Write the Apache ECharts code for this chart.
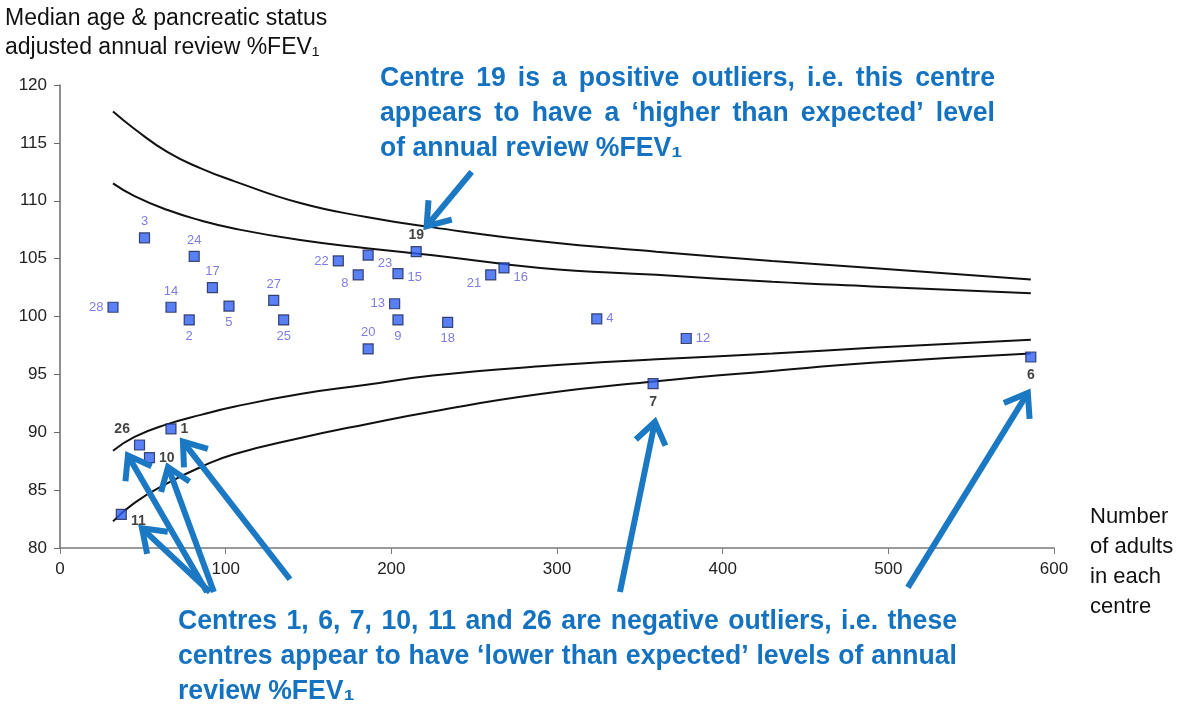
<!DOCTYPE html>
<html>
<head>
<meta charset="utf-8">
<script src="https://cdn.jsdelivr.net/npm/echarts@6/dist/echarts.min.js"></script>
<style>
  html, body { margin: 0; padding: 0; background: #fff; }
  #chart { width: 1180px; height: 706px; }
</style>
</head>
<body>
<div id="chart"></div>
<script>
// centre numbers, number of adults, adjusted %FEV1
const centres = [1, 2, 3, 4, 5, 6, 7, 8, 9, 10, 11, 12, 13, 14, 15, 16, 17, 18, 19, 20, 21, 22, 23, 24, 25, 26, 27, 28];
const adults = [67, 78, 51, 324, 102, 586, 358, 180, 204, 54, 37, 378, 202, 67, 204, 268, 92, 234, 215, 186, 260, 168, 186, 81, 135, 48, 129, 32];
const fev = [90.3, 99.7, 106.8, 99.8, 100.9, 96.5, 94.2, 103.6, 99.7, 87.8, 82.9, 98.1, 101.1, 100.8, 103.7, 104.2, 102.5, 99.5, 105.6, 97.2, 103.6, 104.8, 105.3, 105.2, 99.7, 88.9, 101.4, 100.8];
const outliers = [1, 6, 7, 10, 11, 19, 26];

// control limits
const limitN = [32, 45, 65, 85, 105, 145, 185, 225, 290, 360, 430, 490, 586];
const upperOuter = [117.7, 116.2, 114.2, 112.8, 111.7, 109.8, 108.6, 107.7, 106.5, 105.6, 104.8, 104.2, 103.2];
const upperInner = [111.5, 110.4, 109.2, 108.3, 107.6, 106.6, 105.9, 105.3, 104.2, 103.6, 103.0, 102.6, 102.0];
const lowerInner = [88.4, 89.6, 90.7, 91.5, 92.2, 93.3, 94.1, 94.9, 95.7, 96.3, 96.8, 97.3, 98.0];
const lowerOuter = [82.3, 83.9, 85.6, 87.0, 88.1, 89.5, 90.7, 91.8, 93.3, 94.4, 95.3, 96.0, 96.8];

const xTicks = [0, 100, 200, 300, 400, 500, 600];
const yTicks = [80, 85, 90, 95, 100, 105, 110, 115, 120];

// annotation arrows: [tailN, tailFev, tipN, tipFev]
const arrows = [
  [248.5, 112.5, 221.3, 107.8],
  [88.7, 76.2, 41.0, 88.0],
  [90.5, 76.2, 49.5, 81.7],
  [92.9, 76.2, 65.2, 87.0],
  [138.8, 77.3, 74.2, 89.2],
  [338.0, 76.2, 359.1, 90.9],
  [511.8, 76.6, 584.2, 93.4]
];

const topNote = [
  'Centre 19 is a positive outliers, i.e. this centre',
  'appears to have a \u2018higher than expected\u2019 level',
  'of annual review %FEV\u2081'
];
const bottomNote = [
  'Centres 1, 6, 7, 10, 11 and 26 are negative outliers, i.e. these',
  'centres appear to have \u2018lower than expected\u2019 levels of annual',
  'review %FEV\u2081'
];

// where each point label sits
const labelPlace = {
  28: ['left'], 3: ['top'], 24: ['top'], 17: ['top'], 14: ['top'], 2: ['bottom'], 5: ['bottom'],
  27: ['top'], 25: ['bottom'], 22: ['left'], 23: ['right', 0, 8], 8: ['left', 0, 9], 15: ['right', 0, 4],
  21: ['left', 0, 9], 16: ['right', 0, 10], 13: ['left'], 9: ['bottom'], 18: ['bottom'], 20: ['top'],
  4: ['right'], 12: ['right'], 7: ['bottom', 0, 2], 6: ['bottom', 0, 2], 19: ['top'], 26: ['left', 0, -16],
  1: ['right'], 10: ['right'], 11: ['right', 0, 7]
};

const FONT = '"Liberation Sans", Arial, Helvetica, sans-serif';
const BLUE = '#1472c0';
const ARROW = '#1b78c2';

const chart = echarts.init(document.getElementById('chart'));

const points = centres.map((c, i) => {
  const p = labelPlace[c] || ['right'];
  const isOut = outliers.indexOf(c) >= 0;
  return {
    name: String(c),
    value: [adults[i], fev[i]],
    label: {
      position: p[0],
      offset: [p[1] || 0, p[2] || 0],
      color: isOut ? '#111' : '#5b5bd9',
      fontWeight: isOut ? 'bold' : 'normal',
      fontSize: isOut ? 14 : 13
    }
  };
});

const limitSeries = [upperOuter, upperInner, lowerInner, lowerOuter].map(vals => ({
  type: 'line',
  data: limitN.map((n, i) => [n, vals[i]]),
  smooth: true,
  symbol: 'none',
  lineStyle: { color: '#111', width: 2 },
  silent: true,
  z: 2
}));

chart.setOption({
  animation: false,
  backgroundColor: '#fff',
  textStyle: { fontFamily: FONT },
  grid: { left: 60, right: 126, top: 85, bottom: 158 },
  xAxis: {
    type: 'value',
    min: xTicks[0],
    max: xTicks[xTicks.length - 1],
    interval: 100,
    axisLine: { lineStyle: { color: '#7a7a7a', width: 1.5 } },
    axisTick: { length: 6, lineStyle: { color: '#7a7a7a' } },
    axisLabel: { fontSize: 17, color: '#222', margin: 13 },
    splitLine: { show: false }
  },
  yAxis: {
    type: 'value',
    min: yTicks[0],
    max: yTicks[yTicks.length - 1],
    interval: 5,
    axisLine: { show: true, lineStyle: { color: '#6a6a6a', width: 1.5 } },
    axisTick: { show: true, length: 6, lineStyle: { color: '#6a6a6a' } },
    axisLabel: { fontSize: 17, color: '#222', margin: 13 },
    splitLine: { show: false }
  },
  series: limitSeries.concat([{
    type: 'scatter',
    data: points,
    symbol: 'rect',
    symbolSize: 10,
    itemStyle: { color: '#2f62f2', borderColor: '#1c2350', borderWidth: 1.2 },
    label: { show: true, formatter: '{b}', distance: 4 },
    z: 5
  }])
});

// --- annotations (condensed bold, justified like the original slide) ---
const ctx = document.createElement('canvas').getContext('2d');
const noteFont = 'bold 28px ' + FONT;
const squeeze = 0.95;
ctx.font = noteFont;

function noteLines(lines, left, right, y0, step) {
  const els = [];
  lines.forEach((line, li) => {
    const words = line.split(' ');
    const widths = words.map(w => ctx.measureText(w).width * squeeze);
    const total = widths.reduce((a, b) => a + b, 0);
    const last = li === lines.length - 1;
    const gap = last ? ctx.measureText(' ').width * squeeze : (right - left - total) / (words.length - 1);
    let x = left;
    words.forEach((w, i) => {
      els.push({
        type: 'text', x: x, y: y0 + li * step, z: 20, scaleX: squeeze,
        style: { text: w, font: noteFont, fill: BLUE, textVerticalAlign: 'middle', verticalAlign: 'middle' }
      });
      x += widths[i] + gap;
    });
  });
  return els;
}

function arrowEls(a) {
  const p0 = chart.convertToPixel({ gridIndex: 0 }, [a[0], a[1]]);
  const p1 = chart.convertToPixel({ gridIndex: 0 }, [a[2], a[3]]);
  const ang = Math.atan2(p1[1] - p0[1], p1[0] - p0[0]);
  const L = 26, h = 0.62;
  const l = [p1[0] - L * Math.cos(ang - h), p1[1] - L * Math.sin(ang - h)];
  const r = [p1[0] - L * Math.cos(ang + h), p1[1] - L * Math.sin(ang + h)];
  const end = [p1[0] - 3 * Math.cos(ang), p1[1] - 3 * Math.sin(ang)];
  const st = { stroke: ARROW, lineWidth: 6, fill: null, lineJoin: 'miter', lineCap: 'butt' };
  return [
    { type: 'line', z: 15, shape: { x1: p0[0], y1: p0[1], x2: end[0], y2: end[1] }, style: st },
    { type: 'polyline', z: 15, shape: { points: [l, p1, r] }, style: st }
  ];
}

let graphics = [
  { type: 'text', left: 5, top: 4, style: { text: 'Median age & pancreatic status\nadjusted annual review %FEV\u2081', font: '23px ' + FONT, fill: '#111', lineHeight: 29 } },
  { type: 'text', left: 1090, top: 502, style: { text: 'Number\nof adults\nin each\ncentre', font: '22px ' + FONT, fill: '#111', lineHeight: 30 } }
];
graphics = graphics.concat(noteLines(topNote, 380, 995, 78, 35));
graphics = graphics.concat(noteLines(bottomNote, 178, 957, 621, 35));
arrows.forEach(a => { graphics = graphics.concat(arrowEls(a)); });

chart.setOption({ graphic: graphics });
</script>
</body>
</html>
